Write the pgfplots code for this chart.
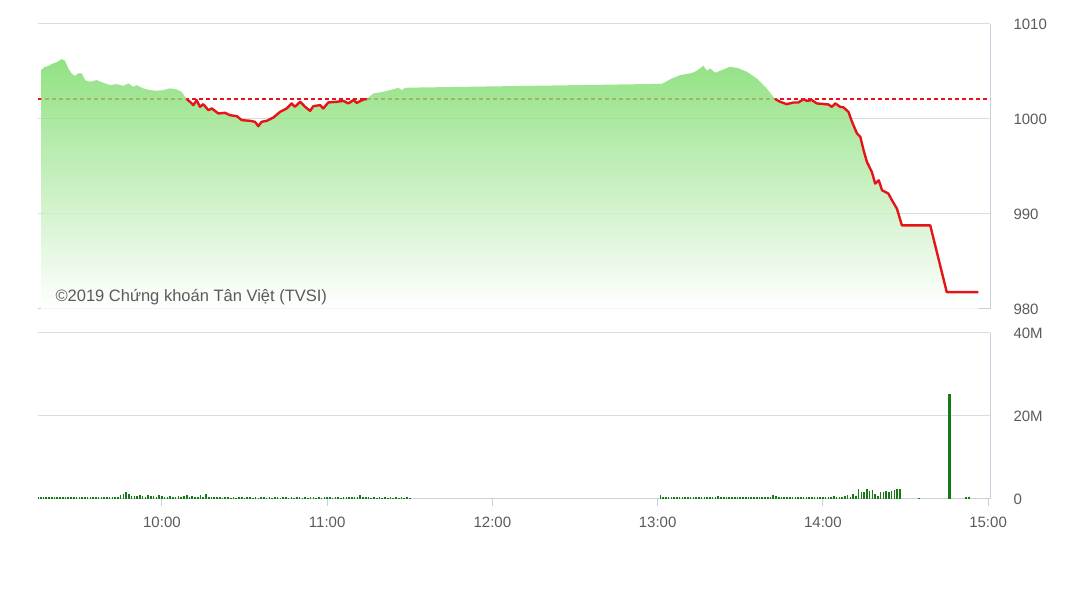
\documentclass[border=0pt]{standalone}
\usepackage{pgfplots}
\usepackage{pgfplotstable}
\pgfplotsset{compat=1.18}
\usepackage{fontspec}
\setmainfont{Liberation Sans}
\definecolor{txtgray}{RGB}{90,90,90}
\definecolor{gridgray}{RGB}{218,220,224}
\definecolor{axblue}{RGB}{200,208,220}
\definecolor{areagreen}{RGB}{118,218,100}
\definecolor{areamid}{RGB}{170,234,158}
\definecolor{linered}{RGB}{230,20,24}
\definecolor{volgreen}{RGB}{22,122,22}

\pgfplotstableread{
t v
556.1 980
556.1 1005.15
557.5 1005.5
558.7 1005.57
560.6 1005.86
562.0 1006.0
563.6 1006.31
564.8 1006.13
566.0 1005.33
567.2 1004.8
568.4 1004.52
569.6 1004.8
570.9 1004.8
572.1 1004.09
573.9 1003.92
576.3 1004.09
578.7 1003.81
581.2 1003.57
583.6 1003.67
586.0 1003.49
587.8 1003.75
589.6 1003.39
590.8 1003.57
593.2 1003.22
595.7 1003.04
598.1 1002.97
600.5 1003.04
602.9 1003.22
605.4 1003.11
607.2 1002.86
609.0 1002.1
610.2 1001.81
611.4 1001.46
612.6 1001.99
613.8 1001.28
615.0 1001.56
616.9 1000.93
618.1 1001.11
620.5 1000.58
622.9 1000.65
624.7 1000.40
627.2 1000.30
629.0 999.88
632.0 999.81
633.8 999.70
635.0 999.24
636.2 999.70
638.1 999.81
640.5 1000.16
642.9 1000.75
645.3 1001.11
647.1 1001.64
648.3 1001.28
650.2 1001.81
652.0 1001.28
653.8 1000.86
655.0 1001.35
657.4 1001.46
658.6 1001.11
660.4 1001.74
663.5 1001.81
665.9 1001.91
667.7 1001.64
669.5 1001.99
670.8 1001.70
673.2 1002.06
674.4 1002.1
676.8 1002.69
680.4 1002.86
682.8 1003.04
685.9 1003.28
687.1 1003.04
688.3 1003.28
690.0 1003.3
781.5 1003.7
785.2 1004.27
788.2 1004.62
791.8 1004.80
793.6 1004.97
795.4 1005.33
796.6 1005.60
797.9 1005.08
799.1 1005.33
800.9 1004.86
803.3 1005.15
806.3 1005.50
809.4 1005.33
812.4 1004.97
816.0 1004.27
819.1 1003.39
822.7 1002.1
824.5 1001.81
826.9 1001.56
829.3 1001.74
831.1 1001.74
833.0 1002.08
834.2 1001.91
836.0 1001.99
837.8 1001.64
842.0 1001.53
843.3 1001.28
844.5 1001.64
846.3 1001.28
847.5 1001.22
849.3 1000.75
850.6 999.70
852.4 998.47
853.6 998.12
854.8 996.71
856.0 995.48
857.8 994.42
859.0 993.20
860.3 993.55
861.5 992.50
862.7 992.32
863.8 992.15
865.1 991.44
866.9 990.56
868.7 988.80
879.0 988.80
885.0 981.77
896.5 981.77
896.5 980
}\price

\pgfplotstableread{
t m
555 0.45
556 0.50
557 0.40
558 0.55
559 0.45
560 0.50
561 0.40
562 0.60
563 0.45
564 0.50
565 0.40
566 0.45
567 0.55
568 0.40
569 0.50
570 0.45
571 0.40
572 0.50
573 0.45
574 0.55
575 0.40
576 0.45
577 0.50
578 0.40
579 0.45
580 0.50
581 0.40
582 0.55
583 0.60
584 0.50
585 0.90
586 1.10
587 1.60
588 1.20
589 0.80
590 0.70
591 0.80
592 0.90
593 0.70
594 0.60
595 1.00
596 0.70
597 0.80
598 0.60
599 0.90
600 0.70
601 0.60
602 0.50
603 0.70
604 0.50
605 0.60
606 0.80
607 0.60
608 0.70
609 0.90
610 0.60
611 0.70
612 0.50
613 0.60
614 0.90
615 0.60
616 1.10
617 0.60
618 0.50
619 0.45
620 0.40
621 0.45
622 0.35
623 0.40
624 0.45
625 0.35
626 0.40
627 0.35
628 0.45
629 0.40
630 0.35
631 0.40
632 0.45
633 0.35
634 0.40
635 0.35
636 0.40
637 0.45
638 0.35
639 0.40
640 0.35
641 0.45
642 0.40
643 0.35
644 0.40
645 0.45
646 0.35
647 0.40
648 0.35
649 0.40
650 0.45
651 0.35
652 0.40
653 0.35
654 0.40
655 0.45
656 0.35
657 0.40
658 0.35
659 0.40
660 0.50
661 0.40
662 0.35
663 0.45
664 0.40
665 0.35
666 0.40
667 0.45
668 0.40
669 0.50
670 0.45
671 0.60
672 1.00
673 0.50
674 0.45
675 0.40
676 0.35
677 0.40
678 0.35
679 0.40
680 0.35
681 0.40
682 0.35
683 0.40
684 0.35
685 0.40
686 0.35
687 0.40
688 0.35
689 0.40
690 0.35
781 1.00
782 0.50
783 0.45
784 0.40
785 0.45
786 0.40
787 0.45
788 0.40
789 0.45
790 0.40
791 0.45
792 0.50
793 0.45
794 0.40
795 0.50
796 0.55
797 0.45
798 0.60
799 0.50
800 0.55
801 0.45
802 0.70
803 0.50
804 0.60
805 0.45
806 0.50
807 0.40
808 0.45
809 0.50
810 0.40
811 0.55
812 0.45
813 0.50
814 0.60
815 0.55
816 0.50
817 0.60
818 0.45
819 0.55
820 0.50
821 0.60
822 1.00
823 0.80
824 0.55
825 0.60
826 0.50
827 0.55
828 0.45
829 0.50
830 0.55
831 0.45
832 0.50
833 0.45
834 0.50
835 0.55
836 0.45
837 0.50
838 0.55
839 0.50
840 0.60
841 0.55
842 0.60
843 0.50
844 0.80
845 0.50
846 0.60
847 0.50
848 0.70
849 0.90
850 0.60
851 1.20
852 0.80
853 2.40
854 1.70
855 1.80
856 2.30
857 1.90
858 2.10
859 1.30
860 0.80
861 1.80
862 1.60
863 2.00
864 1.70
865 2.00
866 2.20
867 2.30
868 2.50
875 0.25
886 25.3
888 0.10
892 0.40
893 0.50
}\volume

\begin{document}
\begin{tikzpicture}
\useasboundingbox (0,0) rectangle (1089bp,612bp);
\pgfplotsset{
  every axis/.append style={
    scale only axis,
    width=952bp,
    xmin=555, xmax=900.7,
    axis x line*=bottom,
    axis y line*=right,
    axis line style={axblue, line width=1bp},
    ymajorgrids,
    grid style={gridgray, line width=1bp},
    ticklabel style={font=\fontsize{15bp}{17bp}\selectfont, text=txtgray},
    /pgf/number format/assume math mode=true,
    ytick style={draw=none},
    clip=true,
  },
}
% ---------- price panel ----------
\begin{axis}[
  at={(38bp,303bp)}, anchor=south west,
  height=285bp,
  ymin=980, ymax=1010,
  ytick={980,990,1000,1010},
  yticklabels={980,990,1000,1010},
  y tick label style={anchor=west, xshift=20bp},
  xtick=\empty,
]
\addplot[linered, line width=1.3bp, dash pattern=on 4bp off 3bp] coordinates {(555,1002.12) (900.7,1002.12)};
\addplot[draw=none, fill opacity=0.8, top color=areagreen, middle color=areamid, bottom color=white] table[x=t,y=v] {\price};
\addplot[linered, line width=2.4bp, line join=round, restrict x to domain=609:674.4] table[x=t,y=v] {\price};
\addplot[linered, line width=2.4bp, line join=round, restrict x to domain=822.7:896.6, restrict y to domain=981:1010] table[x=t,y=v] {\price};
\node[anchor=base west, font=\fontsize{16.5bp}{18bp}\selectfont, text=txtgray] at ([xshift=14bp,yshift=7bp]rel axis cs:0,0) {©2019 Chứng khoán Tân Việt (TVSI)};
\end{axis}
% ---------- volume panel ----------
\begin{axis}[
  at={(38bp,113bp)}, anchor=south west,
  height=166bp,
  ymin=0, ymax=40,
  ytick={0,20,40},
  yticklabels={0,20M,40M},
  y tick label style={anchor=west, xshift=13bp},
  xtick={600,660,720,780,840,900},
  xticklabels={10:00,11:00,12:00,13:00,14:00,15:00},
  xtick pos=bottom,
  tick align=outside,
  major tick length=7bp,
  xtick style={axblue, line width=1bp},
  x tick label style={yshift=-8bp},
]
\addplot[ycomb, volgreen, line width=1.6bp] table[x=t,y=m] {\volume};
\addplot[ycomb, volgreen, line width=2.2bp] coordinates {(886,25.3)};
\end{axis}
\end{tikzpicture}
\end{document}
